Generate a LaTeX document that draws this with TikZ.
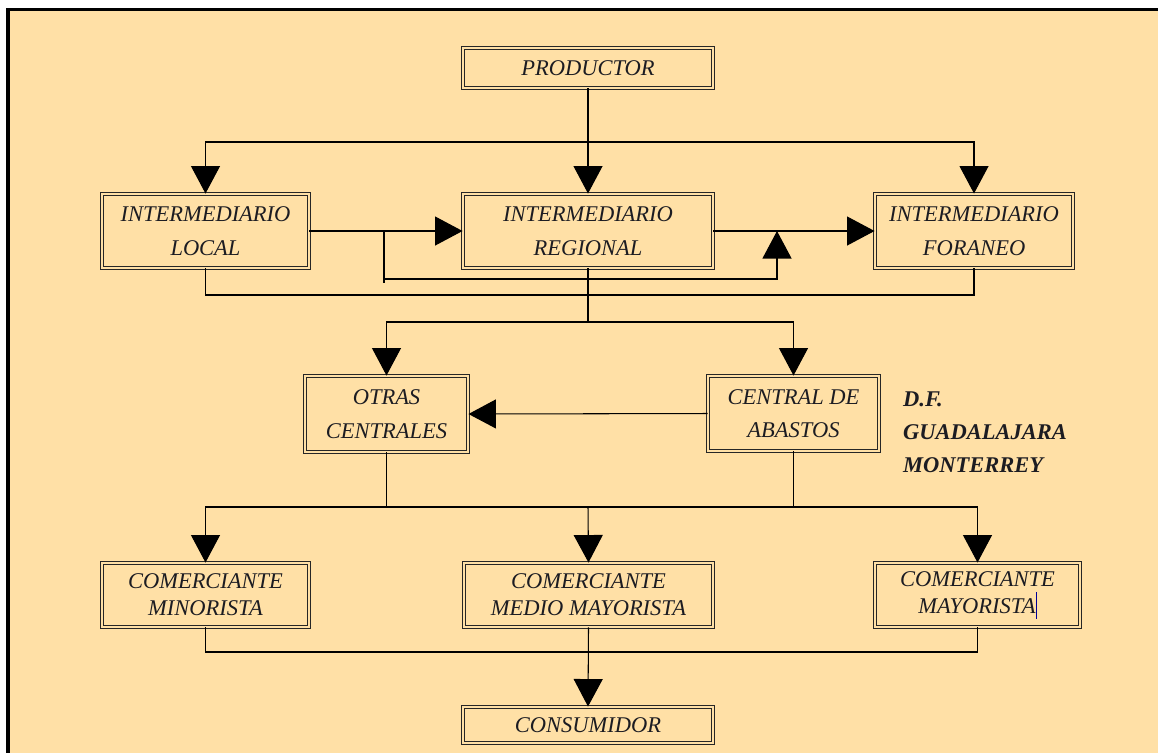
\documentclass[tikz,border=0pt]{standalone}
\usepackage{fontspec}
\setmainfont{Liberation Serif}
\usetikzlibrary{arrows.meta}
\definecolor{fondo}{RGB}{255,224,166}
\definecolor{tinta}{RGB}{28,28,34}

\begin{document}
\begin{tikzpicture}[x=0.02cm,y=-0.02cm,
  caja/.style={draw=black!85, line width=0.55pt, double=fondo, double distance=0.05cm, fill=fondo,
    align=center, inner sep=0pt, text=tinta, font=\fontsize{12.8}{19}\selectfont\itshape},
  flecha/.style={-{Triangle[length=0.55cm,width=0.58cm]}},
  linea/.style={line width=0.6pt, black}]
\clip (0,0) rectangle (1158,752);
\draw[line width=0.07cm, fill=fondo] (8,9.5) rectangle (1200,800);
\node[caja, minimum width=5cm, minimum height=0.8cm](prod) at (588,68){PRODUCTOR};
\node[caja, minimum width=4.14cm, minimum height=1.48cm](local) at (205.5,231){INTERMEDIARIO\\LOCAL};
\node[caja, minimum width=5cm, minimum height=1.48cm](regional) at (588,231){INTERMEDIARIO\\REGIONAL};
\node[caja, minimum width=3.96cm, minimum height=1.48cm](foraneo) at (974,231){INTERMEDIARIO\\FORANEO};
\node[caja, minimum width=3.26cm, minimum height=1.52cm](otras) at (386.5,414){OTRAS\\CENTRALES};
\node[caja, minimum width=3.42cm, minimum height=1.5cm](central) at (793.5,413.5){CENTRAL DE\\ABASTOS};
\node[anchor=west, align=left, text=tinta, font=\fontsize{12.8}{18.8}\selectfont\bfseries\itshape](ciudades) at (897,432){D.F.\\GUADALAJARA\\MONTERREY};
\node[caja, minimum width=4.14cm, minimum height=1.28cm, font=\fontsize{12.8}{15.5}\selectfont\itshape](minor) at (205.5,595){COMERCIANTE\\MINORISTA};
\node[caja, minimum width=4.98cm, minimum height=1.28cm, font=\fontsize{12.8}{15.5}\selectfont\itshape](medio) at (588.5,595){COMERCIANTE\\MEDIO MAYORISTA};
\node[caja, minimum width=4.1cm, minimum height=1.28cm, font=\fontsize{12.8}{15.5}\selectfont\itshape](mayor) at (977.5,595){COMERCIANTE\\MAYORISTA\textcolor{blue!60!black}{\rule[-0.5ex]{0.6pt}{2.6ex}}};
\node[caja, minimum width=5cm, minimum height=0.72cm](consum) at (588,725){CONSUMIDOR};
\coordinate (b1) at (588,142);
\coordinate (r1) at (384,231);
\coordinate (r2) at (384,283);
\coordinate (r3) at (384,279);
\coordinate (r4) at (777,231);
\coordinate (b2) at (588,295);
\coordinate (b3) at (588,322);
\coordinate (b4) at (588,507);
\coordinate (b5) at (588,652);
\begin{scope}[linea]
\draw[flecha] (prod) -- (regional);
\draw[flecha] (b1) -| (local.north);
\draw[flecha] (b1) -| (foraneo.north);
\draw[flecha] (local.east) -- (regional.west);
\draw (r1) -- (r2);
\draw[flecha] (r3) -| (r4);
\draw[flecha] (regional.east) -- (foraneo.west);
\draw (local.south) |- (b2) -| (foraneo.south);
\draw (regional.south) -- (b3);
\draw[flecha] (b3) -| (otras.north);
\draw[flecha] (b3) -| (central.north);
\draw[flecha] (central.west) -- (otras.east);
\draw (otras.south) -- (otras.south |- b4);
\draw (central.south) -- (central.south |- b4);
\draw[flecha] (b4) -| (minor.north);
\draw[flecha] (b4) -| (mayor.north);
\draw[flecha] (b4) -- (medio.north);
\draw (minor.south) |- (b5) -| (mayor.south);
\draw[flecha] (medio.south) -- (consum.north);
\end{scope}
\end{tikzpicture}
\end{document}
